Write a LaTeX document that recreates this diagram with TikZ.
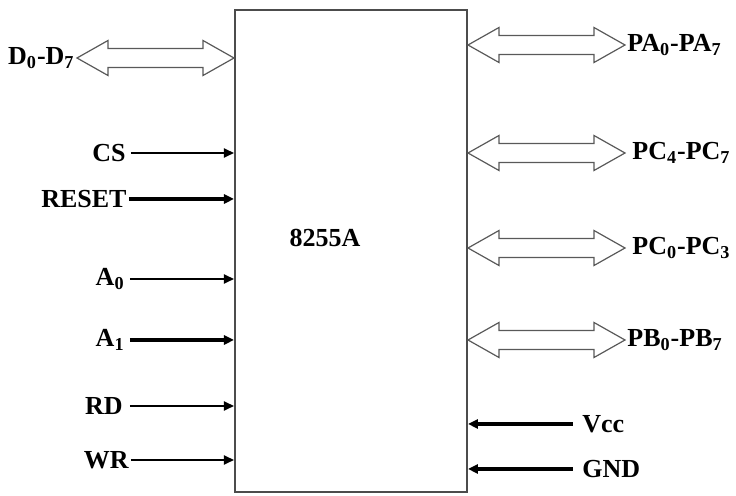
\documentclass[tikz,border=0pt]{standalone}
\usepackage{fontspec}
\setmainfont{Liberation Serif}
\usepackage{tikz}
\usetikzlibrary{arrows.meta,calc}
\tikzset{
  chip/.style={draw=black!70, line width=1pt, minimum width=116pt, minimum height=241pt, inner sep=0pt},
  sig/.style={font=\fontsize{13}{15}\selectfont\bfseries, inner sep=1pt},
  ctl/.style={draw, line width=0.9pt, -{Triangle[length=5pt,width=4.5pt]}},
  ctlb/.style={draw, line width=1.7pt, -{Triangle[length=5pt,width=4.5pt]}},
  bus/.style={draw=black!65, line width=0.6pt, line join=miter}
}
% hollow two-headed bus arrow, #1 left end, #2 right end
\newcommand{\busarrow}[2]{%
  \draw[bus] let \p1=(#1), \p2=(#2) in
    (\x1,\y1) -- (\x1+15.5pt,\y1+8.75pt) -- (\x1+15.5pt,\y1+4.75pt)
    -- (\x2-15.5pt,\y1+4.75pt) -- (\x2-15.5pt,\y1+8.75pt) -- (\x2,\y1)
    -- (\x2-15.5pt,\y1-8.75pt) -- (\x2-15.5pt,\y1-4.75pt)
    -- (\x1+15.5pt,\y1-4.75pt) -- (\x1+15.5pt,\y1-8.75pt) -- cycle;}
\begin{document}
\begin{tikzpicture}[x=0.5pt, y=-0.5pt]
\useasboundingbox (0,0) rectangle (736,496);
\node[chip] (ic) at (351,251) {};
\node[sig] (name) at (325,238) {8255A};
% left side
\node[sig, anchor=east] (d) at (77,58) {D\textsubscript{0}-D\textsubscript{7}};
\node[sig, anchor=east] (cs) at (128,153) {CS};
\node[sig, anchor=east] (rst) at (129,199) {RESET};
\node[sig, anchor=east] (a0) at (127,279) {A\textsubscript{0}};
\node[sig, anchor=east] (a1) at (127,340) {A\textsubscript{1}};
\node[sig, anchor=east] (rd) at (125,406) {RD};
\node[sig, anchor=east] (wr) at (131,460) {WR};
\busarrow{d.east}{d.east -| ic.west}
\draw[ctl] ([xshift=1.5pt]cs.east) -- (cs.east -| ic.west);
\draw[ctlb] (rst.east) -- (rst.east -| ic.west);
\draw[ctl] ([xshift=1.5pt]a0.east) -- (a0.east -| ic.west);
\draw[ctlb] ([xshift=1.5pt]a1.east) -- (a1.east -| ic.west);
\draw[ctl] ([xshift=2.5pt]rd.east) -- (rd.east -| ic.west);
\draw[ctl] (wr.east) -- (wr.east -| ic.west);
% right side
\node[sig, anchor=west] (pa) at (625,45) {PA\textsubscript{0}-PA\textsubscript{7}};
\node[sig, anchor=west] (pch) at (630,153) {PC\textsubscript{4}-PC\textsubscript{7}};
\node[sig, anchor=west] (pcl) at (630,248) {PC\textsubscript{0}-PC\textsubscript{3}};
\node[sig, anchor=west] (pb) at (625,340) {PB\textsubscript{0}-PB\textsubscript{7}};
\node[sig, anchor=west] (vcc) at (580,424) {Vcc};
\node[sig, anchor=west] (gnd) at (580,469) {GND};
\busarrow{pa.west -| ic.east}{pa.west}
\busarrow{pch.west -| ic.east}{[xshift=-2.5pt]pch.west}
\busarrow{pcl.west -| ic.east}{[xshift=-2.5pt]pcl.west}
\busarrow{pb.west -| ic.east}{pb.west}
\draw[ctlb] ([xshift=-3.5pt]vcc.west) -- (vcc.west -| ic.east);
\draw[ctlb] ([xshift=-3.5pt]gnd.west) -- (gnd.west -| ic.east);
\end{tikzpicture}
\end{document}
